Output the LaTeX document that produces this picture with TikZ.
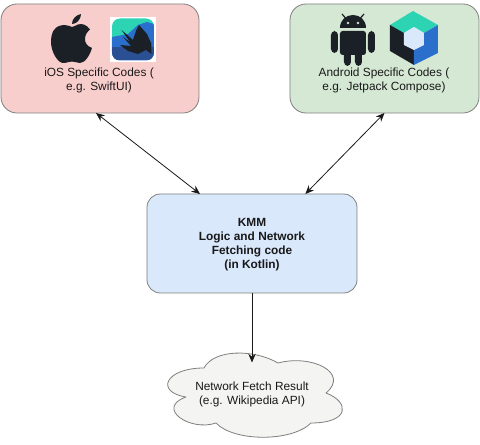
\documentclass[tikz,border=0pt]{standalone}
\usepackage{fontspec}
\setmainfont{Liberation Sans}
\usetikzlibrary{arrows.meta}
\definecolor{iosfill}{HTML}{F8CECC}
\definecolor{androidfill}{HTML}{D5E8D4}
\definecolor{kmmfill}{HTML}{DAE8FC}
\definecolor{cloudfill}{HTML}{F4F4F2}
\definecolor{edgegray}{HTML}{7F7F7F}
\definecolor{icondark}{HTML}{1A2025}
\definecolor{iconteal}{HTML}{2DD4B4}
\definecolor{iconblue}{HTML}{2A6FCB}
\definecolor{icondeep}{HTML}{2B4F93}
\tikzset{
	codebox/.style={draw=edgegray,line width=0.6pt,outer sep=0pt,inner sep=0pt},
	codetext/.style={align=center,font=\fontsize{8.9}{10.5}\selectfont,text=black!90},
	link/.style={line width=0.6pt,color=black!90}
}
\begin{document}
\begin{tikzpicture}[x=0.75pt,y=-0.75pt,>={Stealth[length=6.5pt,width=5.5pt]},line join=round]
	\useasboundingbox (0,0) rectangle (480,445);
	\fill[white] (0,0) rectangle (480,445);
	\node[codebox,fill=iosfill,rounded corners=12pt,minimum width=148.5pt,minimum height=81.75pt] (ios) at (100,58.5) {};
	\node[codebox,fill=androidfill,rounded corners=12pt,minimum width=141.75pt,minimum height=81.75pt] (android) at (384.5,58.5) {};
	\node[codebox,fill=kmmfill,rounded corners=10pt,minimum width=157.5pt,minimum height=74.25pt] (kmm) at (252,243.5) {};
	\draw[draw=edgegray,line width=0.6pt,fill=cloudfill]
		(204,368) .. controls (165,368) and (155,392) .. (186,397)
		.. controls (155,408) and (190,432) .. (216,423)
		.. controls (234,442) and (292,442) .. (311,423)
		.. controls (350,423) and (350,402) .. (326,393)
		.. controls (350,373) and (312,354) .. (278,363)
		.. controls (254,349) and (214,349) .. (204,368) -- cycle;
	\coordinate (cloudtop) at (252,362.5);
	\node[codetext] (iostext) at (99,80.5) {iOS Specific Codes (\\e.g. SwiftUI)};
	\node[codetext] (androidtext) at (384,80.5) {Android Specific Codes (\\e.g. Jetpack Compose)};
	\node[codetext,font=\fontsize{8.9}{10.5}\selectfont\bfseries] (kmmtext) at (252,244.5) {KMM\\Logic and Network\\Fetching code\\(in Kotlin)};
	\node[codetext] (cloudtext) at (252,394) {Network Fetch Result\\(e.g. Wikipedia API)};
	\draw[link,<->] ([xshift=-3pt]ios.south)--([xshift=-39pt]kmm.north);
	\draw[link,<->] (android.south)--([xshift=40pt]kmm.north);
	\draw[link,->] (kmm.south)--(cloudtop);
	\fill[icondark] (72,27) .. controls (66,24) and (51,22) .. (51,42)
		.. controls (51,52) and (58,63) .. (63,63)
		.. controls (67,63) and (69,61.5) .. (72,61.5)
		.. controls (75,61.5) and (77,63) .. (80,63)
		.. controls (85,63) and (90,55) .. (92,48)
		.. controls (87,46) and (85,43) .. (85,39)
		.. controls (85,35) and (87,32) .. (90,29.5)
		.. controls (87,25) and (82,23) .. (78,24.5)
		.. controls (75,25.5) and (74,27) .. (72,27) -- cycle;
	\fill[icondark] (72,24) .. controls (72,19) and (76,15) .. (81,14) .. controls (81,19) and (77,24) .. (72,24) -- cycle;
	\fill[white] (110,17) rectangle (156,62);
	\begin{scope}
		\clip[rounded corners=6pt] (112,18.5) rectangle (154,60.5);
		\fill[iconteal] (112,18.5) rectangle (154,60.5);
		\fill[iconblue] (112,37)--(128,34)--(138,25)--(147,22)--(154,24)--(154,60.5)--(112,60.5)--cycle;
		\fill[icondeep] (112,47) rectangle (154,60.5);
	\end{scope}
	\fill[icondark] (121.5,30)--(133,40)--(136,31)--(139,25)--(147,34)--(151.5,44)--(151.5,54)--(146,50)--(138,54)--(128,51)--(120,45)--(131,46)--(123,37)--(130,42)--cycle;
	\fill[icondark] (340,28) .. controls (340,20) and (346,15) .. (353,15) .. controls (360,15) and (366,20) .. (366,28) -- cycle;
	\draw[icondark,line width=0.9pt] (342,14)--(345.5,18) (364,14)--(360.5,18);
	\fill[androidfill] (348,23) circle (1.4) (358,23) circle (1.4);
	\fill[icondark,rounded corners=2pt] (340,31) rectangle (366,55);
	\fill[icondark,rounded corners=3pt] (331,31) rectangle (338,53) (368,31) rectangle (375,53);
	\fill[icondark,rounded corners=3pt] (344,50) rectangle (351,66) (355,50) rectangle (362,66);
	\fill[iconteal] (390,25)--(413,11)--(438,25)--(424,33)--(414,27)--(404,33)--cycle;
	\fill[icondark] (390,25)--(404,33)--(404,45)--(414,50)--(414,65)--(390,51)--cycle;
	\fill[iconblue] (438,25)--(424,33)--(424,45)--(414,50)--(414,65)--(438,53)--cycle;
	\fill[kmmfill] (414,27)--(424,33)--(424,45)--(414,50)--(404,45)--(404,33)--cycle;
\end{tikzpicture}
\end{document}
